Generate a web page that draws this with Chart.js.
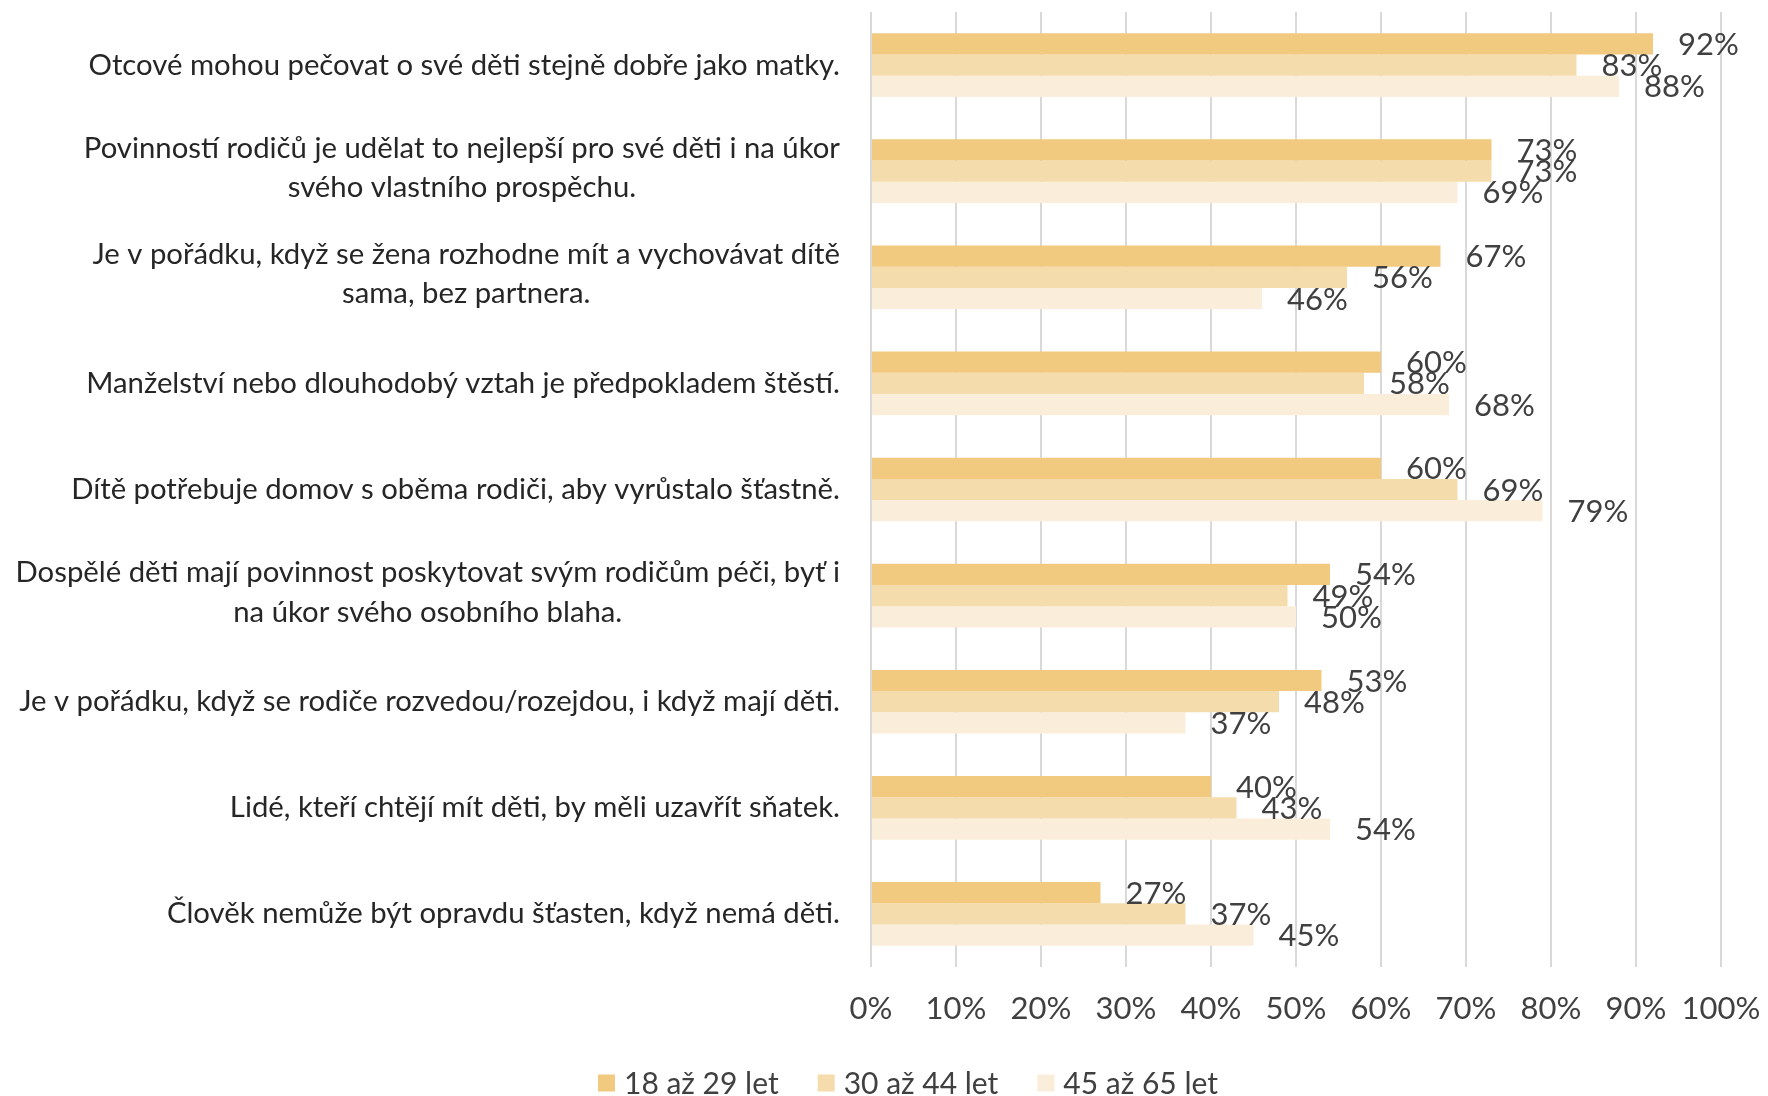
<!DOCTYPE html>
<html>
<head>
<meta charset="utf-8">
<script src="https://cdn.jsdelivr.net/npm/chart.js@4.4.0/dist/chart.umd.min.js"></script>
<style>
  html, body { margin: 0; padding: 0; background: #fff; }
  #wrap { width: 1768px; height: 1096px; }
</style>
</head>
<body>
<div id="wrap"><canvas id="chartPostoje"></canvas></div>
<script>
const kategorie = [
    "Otcové mohou pečovat o své děti stejně dobře jako matky.",
    ["Povinností rodičů je udělat to nejlepší pro své děti i na úkor", "svého vlastního prospěchu."],
    ["Je v pořádku, když se žena rozhodne mít a vychovávat dítě", "sama, bez partnera."],
    "Manželství nebo dlouhodobý vztah je předpokladem štěstí.",
    "Dítě potřebuje domov s oběma rodiči, aby vyrůstalo šťastně.",
    ["Dospělé děti mají povinnost poskytovat svým rodičům péči, byť i", "na úkor svého osobního blaha."],
    "Je v pořádku, když se rodiče rozvedou/rozejdou, i když mají děti.",
    "Lidé, kteří chtějí mít děti, by měli uzavřít sňatek.",
    "Člověk nemůže být opravdu šťasten, když nemá děti."
];
const skupiny = ["18 až 29 let", "30 až 44 let", "45 až 65 let"];
const vek18_29 = [92, 73, 67, 60, 60, 54, 53, 40, 27];
const vek30_44 = [83, 73, 56, 58, 69, 49, 48, 43, 37];
const vek45_65 = [88, 69, 46, 68, 79, 50, 37, 54, 45];
const osaX = [0, 10, 20, 30, 40, 50, 60, 70, 80, 90, 100];

const barvy = ['#F1C97F', '#F5DCAC', '#FAEEDA'];
const pismo = 'Lato, "Open Sans", sans-serif';

// popisky kategorii vlevo (prvni radek vpravo zarovnany, dalsi na stred)
const popiskyKategorii = {
    id: 'popiskyKategorii',
    afterDraw(chart) {
        const ctx = chart.ctx;
        const y = chart.scales.y;
        ctx.save();
        ctx.font = '29.3px ' + pismo;
        ctx.fillStyle = '#262626';
        ctx.textAlign = 'center';
        ctx.textBaseline = 'middle';
        kategorie.forEach((lab, i) => {
            const radky = Array.isArray(lab) ? lab : [lab];
            const sirka = Math.max(...radky.map((r) => ctx.measureText(r).width));
            const cx = 840 - sirka / 2;
            const cy = y.getPixelForValue(i) - (radky.length > 1 ? 3 : 0);
            radky.forEach((r, j) => {
                ctx.fillText(r, cx, cy + (j - (radky.length - 1) / 2) * 39.5);
            });
        });
        ctx.restore();
    }
};

// hodnoty za koncem sloupcu
const hodnoty = {
    id: 'hodnoty',
    afterDatasetsDraw(chart) {
        const ctx = chart.ctx;
        ctx.save();
        ctx.font = '31px ' + pismo;
        ctx.fillStyle = '#404040';
        ctx.textAlign = 'left';
        ctx.textBaseline = 'middle';
        chart.data.datasets.forEach((ds, d) => {
            chart.getDatasetMeta(d).data.forEach((bar, i) => {
                ctx.fillText(ds.data[i] + '%', bar.x + 25, bar.y + 1);
            });
        });
        ctx.restore();
    }
};

// legenda dole
const legenda = {
    id: 'legenda',
    afterDraw(chart) {
        const ctx = chart.ctx;
        ctx.save();
        ctx.font = '30px ' + pismo;
        ctx.textBaseline = 'middle';
        ctx.textAlign = 'left';
        const mezera = 39;
        const polozky = chart.data.datasets.map((ds) => 17 + 9 + ctx.measureText(ds.label).width);
        const celkem = polozky.reduce((a, b) => a + b, 0) + mezera * (polozky.length - 1);
        let x = 908 - celkem / 2;
        const yy = 1083;
        chart.data.datasets.forEach((ds, i) => {
            ctx.fillStyle = ds.backgroundColor;
            ctx.fillRect(x, yy - 8.5, 17, 17);
            ctx.fillStyle = '#404040';
            ctx.fillText(ds.label, x + 26, yy + 1);
            x += polozky[i] + mezera;
        });
        ctx.restore();
    }
};

const data = {
    labels: kategorie.map((k) => Array.isArray(k) ? k.join(' ') : k),
    datasets: [
        { label: skupiny[0], data: vek18_29, backgroundColor: barvy[0] },
        { label: skupiny[1], data: vek30_44, backgroundColor: barvy[1] },
        { label: skupiny[2], data: vek45_65, backgroundColor: barvy[2] }
    ]
};

const config = {
    type: 'bar',
    data: data,
    options: {
        indexAxis: 'y',
        responsive: true,
        maintainAspectRatio: false,
        animation: false,
        barPercentage: 1,
        categoryPercentage: 0.6,
        layout: { padding: { left: 871, right: 47, top: 12, bottom: 69 } },
        plugins: {
            legend: { display: false },
            tooltip: { enabled: false }
        },
        scales: {
            x: {
                min: 0,
                max: 100,
                afterBuildTicks: (scale) => { scale.ticks = osaX.map((v) => ({ value: v })); },
                afterFit: (scale) => {
                    scale.height = 60;
                    scale.paddingLeft = 0;
                    scale.paddingRight = 0;
                },
                grid: { color: '#D9D9D9', lineWidth: 2, drawTicks: false },
                border: { display: false },
                ticks: {
                    padding: 23,
                    color: '#404040',
                    font: { family: pismo, size: 31 },
                    callback: (v) => v + '%'
                }
            },
            y: { display: false }
        }
    },
    plugins: [popiskyKategorii, hodnoty, legenda]
};

const grafPostoje = new Chart(document.getElementById('chartPostoje'), config);
</script>
</body>
</html>
